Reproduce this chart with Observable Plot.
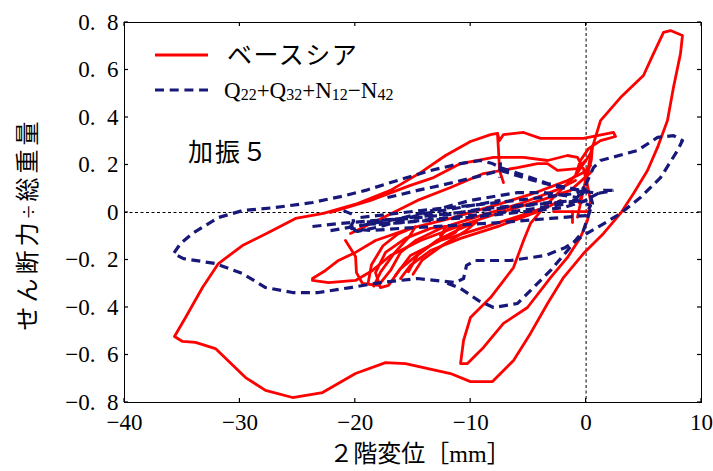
<!DOCTYPE html>
<html><head><meta charset="utf-8">
<script src="https://cdn.jsdelivr.net/npm/d3@7"></script>
<script src="https://cdn.jsdelivr.net/npm/@observablehq/plot@0.6"></script>
<style>
html,body{margin:0;padding:0;background:#fff;}
#chart{width:713px;height:471px;}
</style></head><body><div id="chart"></div>
<script>
// ---- tick values and labels ----
const xTicks = [-40, -30, -20, -10, 0, 10];
const yTicks = [-0.8, -0.6, -0.4, -0.2, 0, 0.2, 0.4, 0.6, 0.8];
const seriesNames = ["ベースシア", "Q22+Q32+N12−N42"];
const xLabel = "２階変位［mm］";
const yLabel = "せん断力÷総重量";
const caseLabel = "加振５";

// ---- ベースシア (red) : [displacement mm, shear/weight] ----
const redMain = [[-22.15,0],[-18.68,0.051],[-15.22,0.114],[-13.22,0.147],[-10.88,0.206],[-8.02,0.232],[-5.42,0.232],[-3.34,0.219],[-1.61,0.240],[-0.75,0.232],[-0.23,0.185],[0.12,0.114],
[0.38,0.051],[0.12,-0.034],[-0.49,-0.105],[-1.61,-0.189],[-3.08,-0.274],[-5.08,-0.400],[-7.16,-0.467],[-8.89,-0.568],[-10.28,-0.636],[-10.88,-0.636],[-10.62,-0.539],[-10.02,-0.442],[-8.28,-0.358],[-6.29,-0.232],[-5.42,-0.118],[-4.82,-0.046],[-3.52,0.029],[-1.79,0.114],[-0.92,0.156],[0.38,0.248],[1.25,0.387],[2.98,0.484],[4.97,0.577],[5.84,0.669],[6.71,0.758],[7.31,0.766],[8.35,0.745],[8.18,0.669],[7.57,0.526],[7.05,0.387],[6.19,0.274],[5.32,0.177],[4.11,0.080],[2.98,-0.004],[1.51,-0.088],[-0.23,-0.173],[-1.96,-0.274],[-3.34,-0.383],[-4.82,-0.509],[-6.29,-0.623],[-8.11,-0.712],[-10.02,-0.712],[-11.75,-0.678],[-15.65,-0.636],[-17.38,-0.632],[-19.98,-0.678],[-22.84,-0.758],[-25.44,-0.779],[-27.78,-0.749],[-29.51,-0.695],[-32.12,-0.573],[-33.85,-0.547],[-34.97,-0.543],[-35.67,-0.522],[-34.71,-0.442],[-33.24,-0.316],[-31.86,-0.215],[-29.78,-0.139],[-27.52,-0.084],[-25.18,-0.025],[-22.76,-0.004],[-19.81,0.038],[-16.95,0.093],[-14.35,0.168],[-12.18,0.240],[-10.02,0.299],[-8.28,0.328],[-7.68,0.333],[-7.50,0.303],[-7.16,0.328],[-5.42,0.337],[-3.95,0.312],[-0.23,0.312],[2.37,0.337],[2.55,0.320],[1.25,0.303],[0.21,0.269],[-0.49,0.219],[-0.92,0.156]];
const redVert = [[-7.68,0.333],[-7.59,0.261],[-7.50,0.177],[-7.16,0.126]];
const redLoopA = [[0.38,0.168],[-1.35,0.093],[-3.95,0.051],[-7.42,0],[-10.88,-0.055],[-14.35,-0.118],[-16.95,-0.181],[-18.51,-0.244],[-19.98,-0.286],[-22.32,-0.295],[-23.71,-0.286],[-23.71,-0.278],[-22.58,-0.244],[-21.46,-0.202],[-19.98,-0.168],[-18.25,-0.118],[-15.22,-0.067],[-11.75,-0.025],[-8.28,0.025],[-4.82,0.076],[-1.79,0.131],[-0.23,0.168],[0.38,0.198]];
const redSpike = [[-20.85,-0.118],[-19.98,-0.185],[-19.90,-0.253],[-19.38,-0.299],[-17.99,-0.307],[-16.95,-0.244],[-16.08,-0.168],[-14.78,-0.118],[-12.62,-0.067],[-9.15,-0.013],[-5.68,0.038],[-2.65,0.093],[-0.92,0.135]];
const redLoopB = [[-17.82,-0.316],[-18.25,-0.253],[-17.38,-0.168],[-15.65,-0.109],[-13.48,-0.067],[-12.18,-0.059],[-12.62,-0.109],[-14.35,-0.168],[-16.08,-0.236],[-17.12,-0.307],[-17.82,-0.316]];
const redLoopC = [[-16.52,-0.265],[-15.22,-0.181],[-12.62,-0.118],[-9.15,-0.067],[-5.68,-0.013],[-3.08,0.029],[-2.22,0.051],[-3.95,0.008],[-7.42,-0.055],[-10.88,-0.109],[-13.48,-0.160],[-15.22,-0.223],[-16.08,-0.278]];
const redLoopD = [[-12.62,-0.097],[-11.75,-0.059],[-10.88,-0.055],[-11.32,-0.084],[-12.36,-0.109],[-12.62,-0.097]];
const redLoopE = [[-18.9,-0.30],[-18.6,-0.22],[-17.6,-0.14],[-16.3,-0.09],[-14.8,-0.06],[-15.3,-0.10],[-16.6,-0.17],[-17.8,-0.25],[-18.4,-0.31]];
const redLoopF = [[-15.4,-0.25],[-14.6,-0.18],[-13.0,-0.12],[-11.0,-0.07],[-9.5,-0.04],[-10.5,-0.08],[-12.5,-0.14],[-14.2,-0.20],[-15.0,-0.26]];
const redUpper = [[-20.42,-0.088],[-17.56,-0.021],[-14.61,0.051],[-11.75,0.105],[-8.89,0.164],[-5.94,0.189],[-4.21,0.206],[-3.34,0.206],[-2.48,0.177],[-0.75,0.185],[-0.05,0.219]];
const redNearZero = [[-0.75,-0.02],[-0.3,0.08],[0.2,0.19],[0.55,0.28],[0.45,0.22],[-0.1,0.12],[-0.6,0.04]];
const redFlat = [[-2.82,0.004],[0.12,0.004]];
const redStub = [[-1.18,0.004],[-1.18,-0.042]];

// ---- Q22+Q32+N12−N42 (blue dashed) ----
const blueLoop = [[-0.05,0.114],[0.64,0.189],[1.25,0.219],[4.45,0.261],[6.19,0.316],[7.57,0.324],[8.35,0.303],[7.92,0.261],[6.45,0.147],[4.71,0.063],[2.98,-0.004],[1.25,-0.055],[-0.23,-0.097],[-1.79,-0.147],[-3.52,-0.181],[-6.55,-0.202],[-9.58,-0.202],[-10.36,-0.223],[-10.62,-0.278],[-11.32,-0.295],[-14.61,-0.278],[-17.82,-0.295],[-20.42,-0.316],[-23.19,-0.337],[-25.44,-0.337],[-27.78,-0.316],[-29.78,-0.257],[-32.12,-0.215],[-34.89,-0.194],[-35.75,-0.173],[-35.15,-0.131],[-34.11,-0.088],[-31.86,-0.021],[-29.78,0.008],[-26.92,0.021],[-23.71,0.042],[-21.28,0.067],[-19.12,0.093],[-16.34,0.135],[-13.48,0.177],[-10.88,0.206],[-9.15,0.219],[-8.11,0.206],[-7.42,0.189],[-4.82,0.147],[-3.34,0.122],[-1.61,0.105],[-0.49,0.093],[0.99,0.080],[2.37,0.093]];
const blueDescent = [[0.38,0.072],[0.55,0.038],[-0.23,-0.076],[-1.61,-0.160],[-3.08,-0.244],[-4.56,-0.316],[-5.94,-0.383],[-8.02,-0.400],[-9.32,-0.371],[-10.88,-0.320],[-12.18,-0.295]];
const blueT1 = [[-23.71,-0.059],[-21.28,-0.046],[-18.42,-0.034],[-15.22,-0.025],[-11.75,-0.008],[-8.89,0.017],[-5.94,0.029],[-3.08,0.042],[-0.75,0.051],[0.38,0.029],[-0.05,-0.013],[-3.08,-0.025],[-7.42,-0.042],[-11.75,-0.055],[-16.08,-0.067],[-18.68,-0.076],[-20.42,-0.067]];
const blueT2 = [[-22.15,-0.076],[-19.55,-0.055],[-16.08,-0.025],[-12.62,0.017],[-10.02,0.051],[-5.94,0.084],[-3.69,0.084],[-1.96,0.072],[-0.75,0.063],[-0.23,0.105],[0.38,0.063],[1.51,0.093],[2.72,0.093]];
const blueT3 = [[-21.02,0.008],[-20.24,-0.008],[-20.16,-0.038],[-20.50,-0.067],[-19.81,-0.080],[-17.82,-0.059],[-14.35,-0.008],[-10.88,0.021],[-7.42,0.051]];
const blueT4 = [[-17.21,0.063],[-14.61,0.093],[-12.62,0.114],[-9.76,0.147],[-7.42,0.177],[-4.56,0.135],[-2.22,0.105],[-0.49,0.093]];
const blueT5 = [[-7.42,0.211],[-7.50,0.147]];
const blueT6 = [[-19.55,-0.021],[-14.35,0.008],[-9.15,0.034],[-3.95,0.063],[-0.92,0.080],[0.21,0.101],[-1.35,0.038],[-5.68,0.008],[-10.88,-0.017],[-16.08,-0.042],[-19.55,-0.051]];
const blueT7 = [[-19.0,-0.040],[-15.0,-0.020],[-11.0,0.000],[-7.0,0.020],[-3.0,0.040],[0.0,0.050],[-2.0,0.020],[-6.0,0.000],[-10.0,-0.020],[-14.0,-0.035],[-18.0,-0.050]];

const redSegs = [redMain, redVert, redLoopA, redSpike, redLoopB, redLoopC, redLoopD, redLoopE, redLoopF, redUpper, redNearZero, redFlat, redStub];
const blueSegs = [blueLoop, blueDescent, blueT1, blueT2, blueT3, blueT4, blueT5, blueT6, blueT7];

const RED = "#ff0000", BLUE = "#18187a";
const SERIF = "'Liberation Serif', 'Noto Sans CJK JP', serif";

const fmtX = d => d < 0 ? "−" + (-d) : String(d);
const fmtY = d => d === 0 ? "0" : (d < 0 ? "−" : "") + Math.abs(d).toFixed(1).replace(".", ".\u2002");

const lineOpts = (stroke, extra) => Object.assign({x: d => d[0], y: d => d[1], stroke, strokeLinejoin: "round", strokeLinecap: "round"}, extra);

const plot = Plot.plot({
  width: 713, height: 471,
  marginLeft: 124, marginRight: 12, marginTop: 22, marginBottom: 69,
  x: {domain: [-40, 10]},
  y: {domain: [-0.8, 0.8]},
  style: {background: "white", color: "black"},
  marks: [
    Plot.ruleX([0], {stroke: "black", strokeWidth: 1, strokeDasharray: "3,2.5"}),
    Plot.ruleY([0], {stroke: "black", strokeWidth: 1, strokeDasharray: "3,2.5"}),
    ...redSegs.map(s => Plot.line(s, lineOpts(RED, {strokeWidth: 2.8}))),
    ...blueSegs.map(s => Plot.line(s, lineOpts(BLUE, {strokeWidth: 3.2, strokeDasharray: "9,5.5", strokeLinecap: "butt"}))),
    Plot.frame({stroke: "black", strokeWidth: 1}),
    Plot.axisX(xTicks, {tickSize: 0, tickPadding: 11, tickFormat: fmtX, label: null, fontSize: 23, fontFamily: SERIF}),
    Plot.axisY(yTicks, {tickSize: 0, tickPadding: 6, tickFormat: fmtY, label: null, fontSize: 23, fontFamily: SERIF})
  ]
});

document.getElementById("chart").appendChild(plot);

const svg = d3.select(plot);
// tick label font: apply to every text Plot itself drew (the axis tick labels)
svg.selectAll("text").each(function() {
  this.style.setProperty("font-family", SERIF, "important");
  this.style.setProperty("font-size", "23px", "important");
  this.style.setProperty("font-variant", "normal", "important");
});

// inward tick marks on all four sides, positioned with the plot's own scales
const sx = plot.scale("x"), sy = plot.scale("y");
const x0 = sx.apply(-40), x1 = sx.apply(10), y0 = sy.apply(-0.8), y1 = sy.apply(0.8);
const tg = svg.append("g").attr("stroke", "black").attr("stroke-width", 1.2);
const TL = 4;
xTicks.forEach(t => {
  const px = sx.apply(t);
  tg.append("line").attr("x1", px).attr("x2", px).attr("y1", y0).attr("y2", y0 - TL);
  tg.append("line").attr("x1", px).attr("x2", px).attr("y1", y1).attr("y2", y1 + TL);
});
yTicks.forEach(t => {
  const py = sy.apply(t);
  tg.append("line").attr("x1", x0).attr("x2", x0 + TL).attr("y1", py).attr("y2", py);
  tg.append("line").attr("x1", x1).attr("x2", x1 - TL).attr("y1", py).attr("y2", py);
});

// legend
const lg = svg.append("g").attr("text-anchor", "start");
lg.append("line").attr("x1", 155).attr("x2", 208).attr("y1", 55).attr("y2", 55)
  .attr("stroke", RED).attr("stroke-width", 3.2);
lg.append("text").attr("x", 227).attr("y", 55).attr("dy", "0.36em").attr("text-anchor", "start")
  .style("font-family", SERIF).style("font-size", "25px").style("letter-spacing", "1.5px")
  .attr("fill", "black").text(seriesNames[0]);
lg.append("line").attr("x1", 155).attr("x2", 208).attr("y1", 90).attr("y2", 90)
  .attr("stroke", BLUE).attr("stroke-width", 3.2).attr("stroke-dasharray", "9,5.7");
const t2 = lg.append("text").attr("x", 224).attr("y", 98).attr("text-anchor", "start")
  .style("font-family", SERIF).style("font-size", "23px").attr("fill", "black");
const parts = seriesNames[1].match(/[^0-9]+|[0-9]+/g);
parts.forEach((p, i) => {
  const isNum = /^[0-9]+$/.test(p);
  const ts = t2.append("tspan").text(p);
  if (isNum) ts.style("font-size", "16px").attr("dy", 2);
  else if (i > 0) ts.attr("dy", -2);
});

// case label
svg.append("text").attr("x", 188).attr("y", 152).attr("dy", "0.36em").attr("text-anchor", "start")
  .style("font-family", SERIF).style("font-size", "25px").style("letter-spacing", "2px")
  .attr("fill", "black").text(caseLabel);

// axis titles
svg.append("text").attr("x", 420).attr("y", 453).attr("dy", "0.36em")
  .attr("text-anchor", "middle").style("font-family", SERIF).style("font-size", "24px")
  .attr("fill", "black").text(xLabel);
svg.append("text").attr("transform", `translate(27,${(y0 + y1) / 2 + 12}) rotate(-90)`)
  .attr("dy", "0.36em").attr("text-anchor", "middle").style("font-family", SERIF)
  .style("font-size", "24px").style("letter-spacing", "4px").attr("fill", "black").text(yLabel);
</script>
</body></html>
